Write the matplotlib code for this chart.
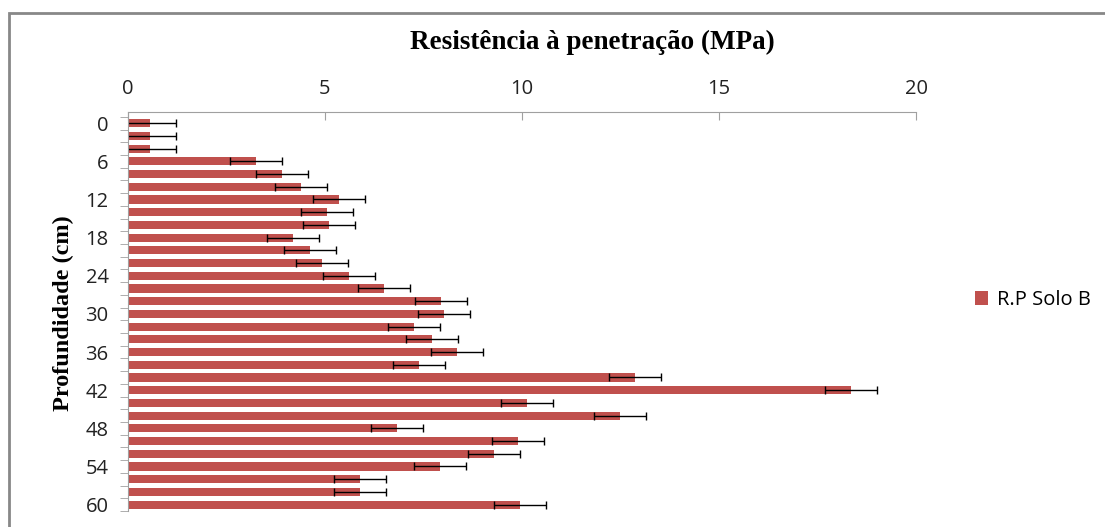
import matplotlib.pyplot as plt
from matplotlib.patches import Rectangle
from matplotlib.ticker import FixedLocator

depths = list(range(0, 61, 2))
resistance = [0.57, 0.57, 0.57, 3.25, 3.9, 4.39, 5.35, 5.06, 5.09, 4.2, 4.62,
              4.93, 5.6, 6.49, 7.95, 8.02, 7.25, 7.71, 8.35, 7.39, 12.88,
              18.35, 10.12, 12.48, 6.82, 9.91, 9.28, 7.91, 5.9, 5.9, 9.96]
errors = [0.66] * len(depths)
depth_labels = [str(d) if d % 6 == 0 else "" for d in depths]

bar_color = "#C0504D"
sans = ["Open Sans", "DejaVu Sans"]
serif = ["Liberation Serif", "DejaVu Serif"]

fig = plt.figure(figsize=(11.05, 5.27), dpi=100)
ax = fig.add_axes([128 / 1105, 1 - 511 / 527, (916 - 128) / 1105, (511 - 112) / 527])

pos = list(range(len(depths)))
ax.barh(pos, resistance, height=0.64, color=bar_color, label="R.P Solo B",
        xerr=errors, error_kw=dict(ecolor="black", elinewidth=1.0, capsize=3, capthick=1.0))

ax.set_xlim(0, 20)
ax.set_ylim(30.5, -0.88)
ax.xaxis.tick_top()
ax.set_xticks([0, 5, 10, 15, 20])
ax.tick_params(axis="x", direction="in", length=6, color="#a0a0a0", pad=9,
               labelsize=14.5)
ax.set_yticks(pos)
ax.set_yticklabels(depth_labels)
ax.tick_params(axis="y", length=0, pad=14, labelsize=14.5)
ax.yaxis.set_minor_locator(FixedLocator([p - 0.5 for p in pos] + [30.5]))
ax.tick_params(axis="y", which="minor", length=6, color="#a0a0a0", direction="out")
for label in ax.get_xticklabels() + ax.get_yticklabels():
    label.set_family(sans)
    label.set_color("#222222")

for side in ["right", "bottom"]:
    ax.spines[side].set_visible(False)
ax.spines["top"].set_color("#a0a0a0")
ax.spines["left"].set_color("#a0a0a0")

fig.text(592 / 1105, 1 - 42 / 527, "Resistência à penetração (MPa)", ha="center",
         va="center", fontsize=19.5, fontweight="bold", family=serif)
fig.text(63 / 1105, 1 - 313 / 527, "Profundidade (cm)", ha="center", va="center",
         rotation=90, fontsize=17.5, fontweight="bold", family=serif)

ax.legend(loc="center left", bbox_to_anchor=(957 / 1105, 1 - 300 / 527),
          bbox_transform=fig.transFigure, frameon=False, handlelength=0.65,
          handleheight=0.65, handletextpad=0.45, prop={"family": sans, "size": 14.5})

fig.patches.append(Rectangle((9 / 1105, -0.1), 1.2, 1.1 - 13 / 527, transform=fig.transFigure,
                             fill=False, edgecolor="#888888", linewidth=2))

fig.savefig("out.png", dpi=100)
